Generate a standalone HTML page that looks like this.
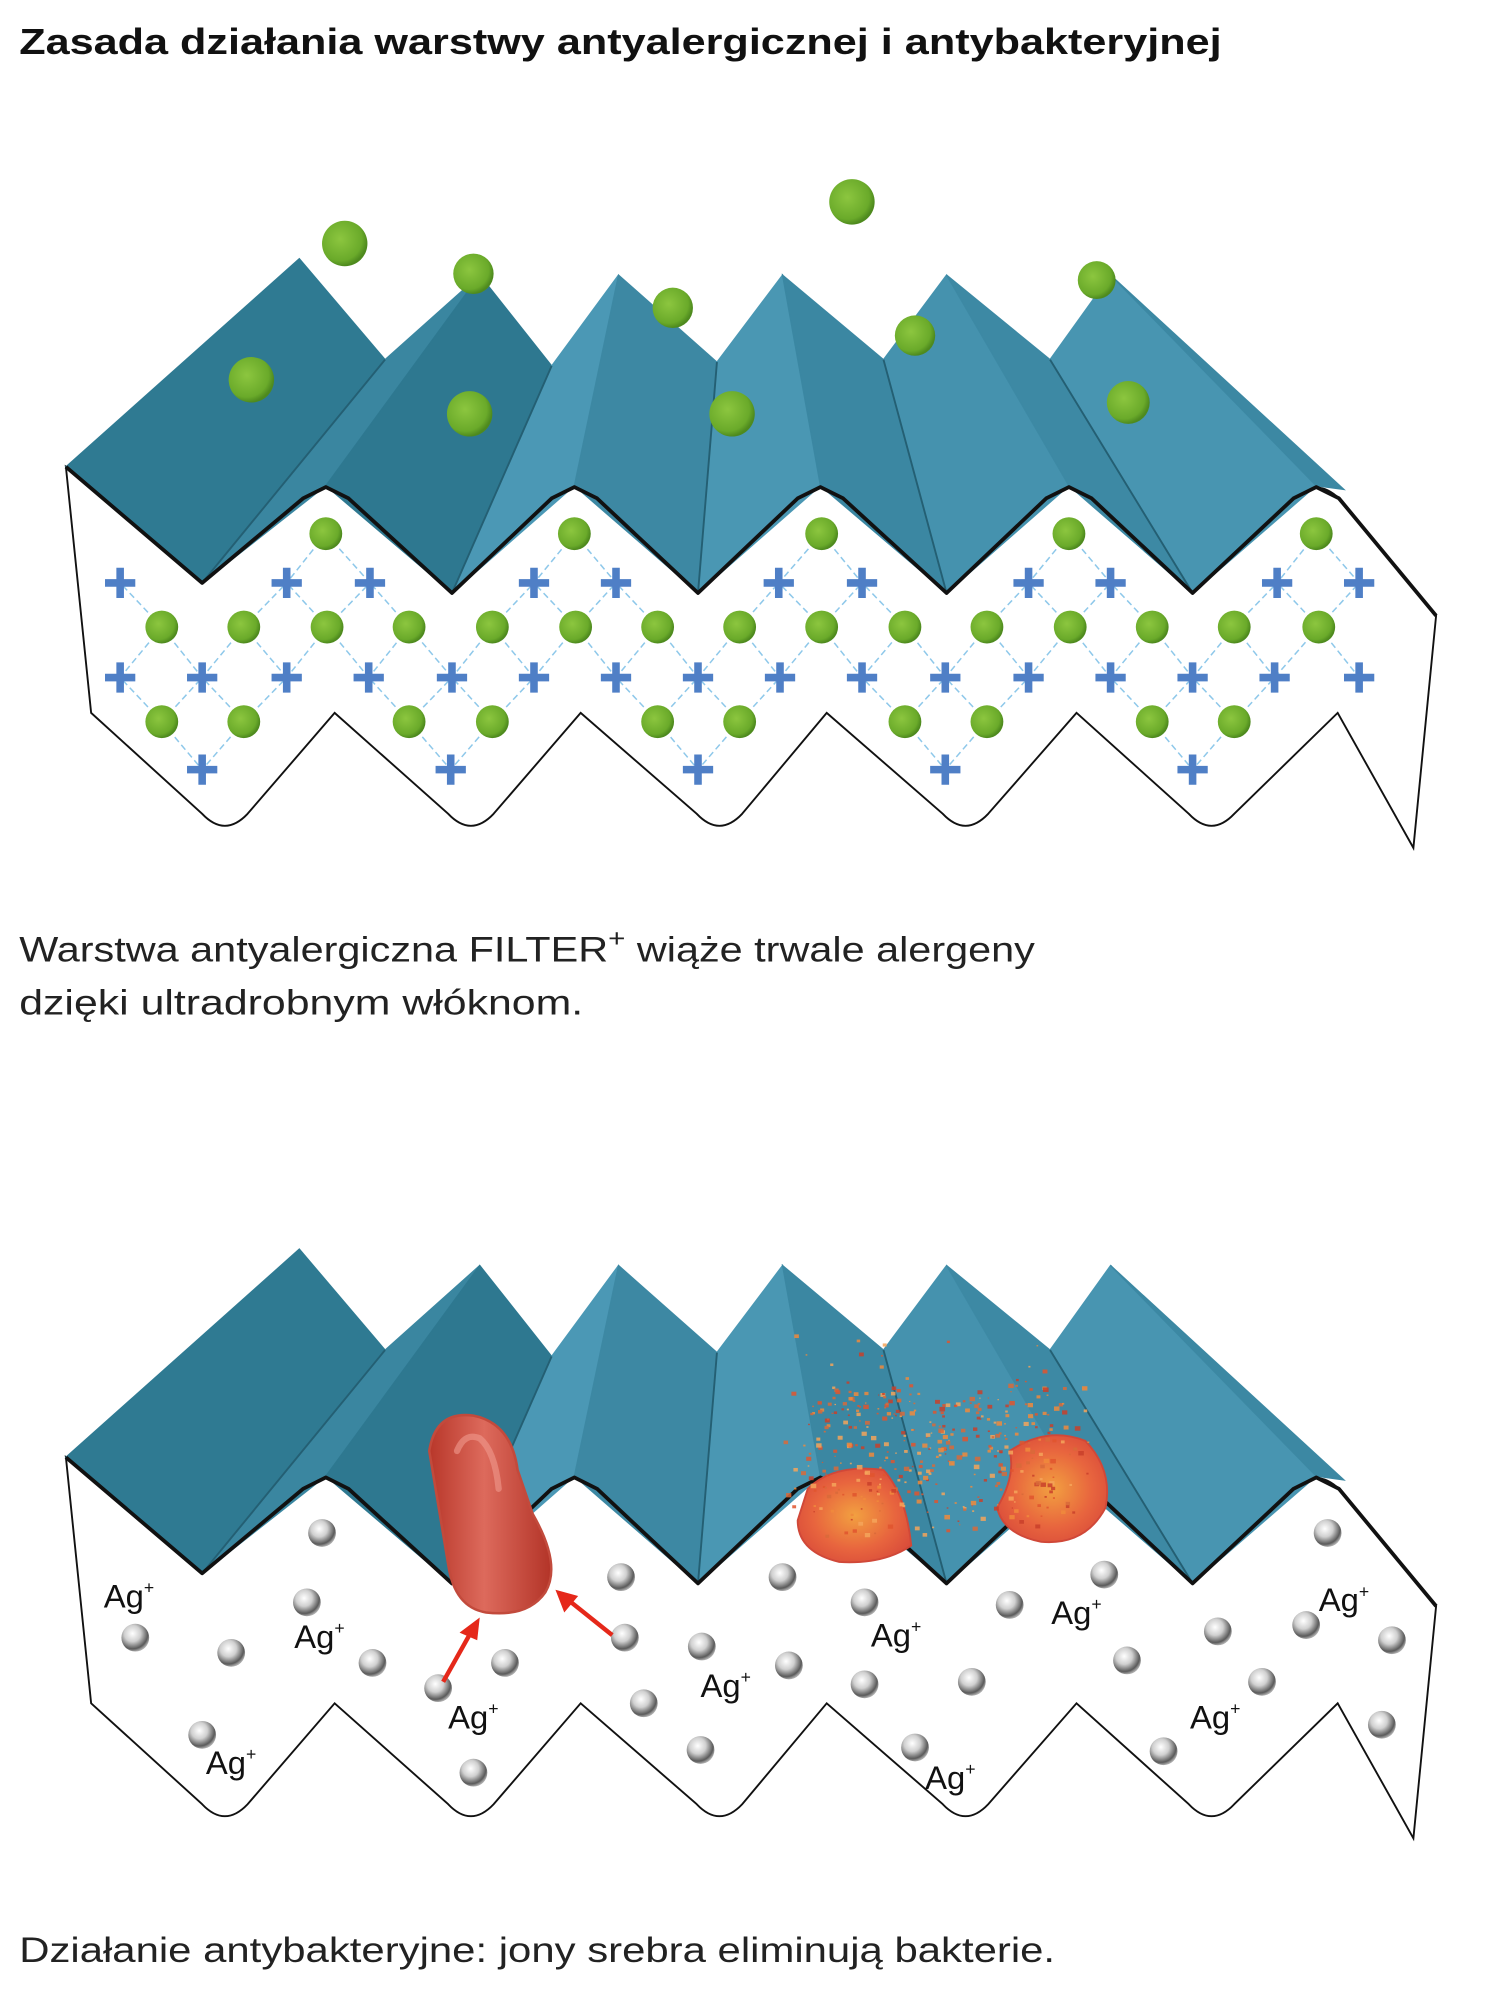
<!DOCTYPE html>
<html><head><meta charset="utf-8"><style>
html,body{margin:0;padding:0;background:#fff;}
svg{display:block}
</style></head><body>
<svg id="s" width="1502" height="1996" viewBox="0 0 1190 1582" xmlns="http://www.w3.org/2000/svg">
<defs>
<radialGradient id="gr" cx="0.4" cy="0.4" r="0.6"><stop offset="0" stop-color="#8cc63f"/><stop offset="0.8" stop-color="#6aaa2a"/><stop offset="1" stop-color="#4e8a1e"/></radialGradient>
<radialGradient id="ag" cx="0.4" cy="0.35" r="0.65"><stop offset="0" stop-color="#ffffff"/><stop offset="0.45" stop-color="#d0d0d0"/><stop offset="0.85" stop-color="#5a5a5a"/><stop offset="1" stop-color="#aaa"/></radialGradient>
<linearGradient id="bac" x1="0" y1="0" x2="1" y2="0"><stop offset="0" stop-color="#b8372a"/><stop offset="0.45" stop-color="#dd6a5c"/><stop offset="1" stop-color="#b33428"/></linearGradient>
<radialGradient id="dead" cx="0.5" cy="0.5" r="0.6"><stop offset="0" stop-color="#f2a040"/><stop offset="0.6" stop-color="#e8653e"/><stop offset="1" stop-color="#d84a3a"/></radialGradient>
</defs>
<text x="15" y="43" font-family="Liberation Sans, sans-serif" font-weight="bold" font-size="29" fill="#111" textLength="953" lengthAdjust="spacingAndGlyphs">Zasada działania warstwy antyalergicznej i antybakteryjnej</text>
<g id="gtop"></g>
<g id="gbot"></g>
<text x="15" y="762" font-family="Liberation Sans, sans-serif" font-size="28" fill="#222" textLength="805" lengthAdjust="spacingAndGlyphs">Warstwa antyalergiczna FILTER<tspan dy="-12" font-size="20">+</tspan><tspan dy="12"> wiąże trwale alergeny</tspan></text>
<text x="15" y="804" font-family="Liberation Sans, sans-serif" font-size="28" fill="#222" textLength="447" lengthAdjust="spacingAndGlyphs">dzięki ultradrobnym włóknom.</text>
<text x="15" y="1555" font-family="Liberation Sans, sans-serif" font-size="28" fill="#222" textLength="821" lengthAdjust="spacingAndGlyphs">Działanie antybakteryjne: jony srebra eliminują bakterie.</text>
</svg>
<script>
(function(){
var NS="http://www.w3.org/2000/svg";
function el(p,t,a){var e=document.createElementNS(NS,t);for(var k in a)e.setAttribute(k,a[k]);p.appendChild(e);return e;}
function pts(a,dy){return a.map(function(p){return p[0]+","+(p[1]+dy)}).join(" ");}
function filter(g,dy){
 var panel="M52,"+(370+dy)+" L160,"+(462+dy)+" L240,"+(395+dy)+" Q258,"+(378+dy)+" 276,"+(395+dy)+" L358,"+(470+dy)+" L437,"+(395+dy)+" Q455,"+(378+dy)+" 473,"+(395+dy)+" L553,"+(470+dy)+" L632,"+(395+dy)+" Q650,"+(378+dy)+" 668,"+(395+dy)+" L750,"+(470+dy)+" L829,"+(395+dy)+" Q847,"+(378+dy)+" 865,"+(395+dy)+" L945,"+(470+dy)+" L1025,"+(395+dy)+" Q1043,"+(378+dy)+" 1061,"+(395+dy)+" L1138,"+(488+dy)+" L1120,"+(672+dy)+" L1060,"+(565+dy)+" L978,"+(645+dy)+" Q960,"+(664+dy)+" 942,"+(645+dy)+" L853,"+(565+dy)+" L783,"+(645+dy)+" Q765,"+(664+dy)+" 747,"+(645+dy)+" L655,"+(565+dy)+" L588,"+(645+dy)+" Q570,"+(664+dy)+" 552,"+(645+dy)+" L460,"+(565+dy)+" L391,"+(645+dy)+" Q373,"+(664+dy)+" 355,"+(645+dy)+" L265,"+(565+dy)+" L196,"+(645+dy)+" Q178,"+(664+dy)+" 160,"+(645+dy)+" L72,"+(565+dy)+" Z";
 el(g,"path",{d:panel,fill:"#fff",stroke:"#111","stroke-width":"1.5"});
 var F=[
 [[[52,370],[237,205],[305,285],[160,462]],"#2f7a92"],
 [[[160,462],[305,285],[380,218],[258,385]],"#3a86a0"],
 [[[258,385],[380,218],[437,290],[358,470]],"#2e7890"],
 [[[358,470],[437,290],[490,218],[455,385]],"#4b98b5"],
 [[[455,385],[490,218],[568,287],[553,470]],"#3d88a3"],
 [[[553,470],[568,287],[620,218],[650,385]],"#4a97b3"],
 [[[650,385],[620,218],[700,285],[750,470]],"#3b87a2"],
 [[[750,470],[700,285],[750,218],[847,385]],"#4592ae"],
 [[[847,385],[750,218],[832,285],[945,470]],"#3d89a4"],
 [[[945,470],[832,285],[880,218],[1043,385]],"#4895b1"],
 [[[1043,385],[880,218],[1065,388]],"#3c88a3"]];
 F.forEach(function(f){el(g,"polygon",{points:pts(f[0],dy),fill:f[1],stroke:f[1],"stroke-width":"1"});});
 [[[305,285],[160,462]],[[437,290],[358,470]],[[568,287],[553,470]],[[700,285],[750,470]],[[832,285],[945,470]]].forEach(function(l){
  el(g,"line",{x1:l[0][0],y1:l[0][1]+dy,x2:l[1][0],y2:l[1][1]+dy,stroke:"#245f73","stroke-width":"1.5"});});
 el(g,"polyline",{points:pts([[52,370],[160,462],[240,395],[258,386],[276,395],[358,470],[437,395],[455,386],[473,395],[553,470],[632,395],[650,386],[668,395],[750,470],[829,395],[847,386],[865,395],[945,470],[1025,395],[1043,386],[1061,395],[1138,488]],dy),fill:"none",stroke:"#111","stroke-width":"3","stroke-linejoin":"round"});
}
var gT=document.getElementById("gtop"),gB=document.getElementById("gbot");
filter(gT,0);
var G=[],P=[];
[258,455,651,847,1043].forEach(function(x){G.push([x,423]);});
[128,193,259,324,390,456,521,586,651,717,782,848,913,978,1045].forEach(function(x){G.push([x,497]);});
[128,193,324,390,521,586,717,782,913,978].forEach(function(x){G.push([x,572]);});
[95,227,293,423,488,617,683,815,880,1012,1077].forEach(function(x){P.push([x,462]);});
[95,160,227,292,358,423,488,553,618,683,749,815,880,945,1010,1077].forEach(function(x){P.push([x,537]);});
[160,357,553,749,945].forEach(function(x){P.push([x,610]);});
G.forEach(function(g){P.forEach(function(p){var dx=Math.abs(g[0]-p[0]),ddy=Math.abs(g[1]-p[1]);if(dx<45&&ddy<45&&dx>20&&ddy>20)el(gT,"line",{x1:g[0],y1:g[1],x2:p[0],y2:p[1],stroke:"#8ec8ea","stroke-width":"1.2","stroke-dasharray":"5,3"});});});
G.forEach(function(g){el(gT,"circle",{cx:g[0],cy:g[1],r:13,fill:"url(#gr)"});});
P.forEach(function(p){el(gT,"path",{d:"M"+(p[0]-12)+","+p[1]+"h24M"+p[0]+","+(p[1]-12)+"v24",stroke:"#4f7fc6","stroke-width":"6"});});
[[273,193,18],[199,301,18],[375,217,16],[372,328,18],[533,244,16],[580,328,18],[675,160,18],[725,266,16],[869,222,15],[894,319,17]].forEach(function(c){el(gT,"circle",{cx:c[0],cy:c[1],r:c[2],fill:"url(#gr)"});});
filter(gB,785);
[[255,1215],[107,1298],[183,1310],[243,1270],[295,1318],[160,1375],[347,1338],[400,1318],[375,1405],[492,1250],[495,1298],[510,1350],[556,1305],[625,1320],[620,1250],[555,1387],[685,1270],[685,1335],[770,1333],[800,1272],[875,1248],[893,1316],[725,1385],[922,1388],[965,1293],[1000,1333],[1035,1288],[1052,1215],[1103,1300],[1095,1367]].forEach(function(c){el(gB,"circle",{cx:c[0],cy:c[1],r:11,fill:"url(#ag)"});});
[[82,1274],[233,1306],[355,1370],[163,1406],[555,1345],[690,1305],[833,1287],[943,1370],[1045,1277],[733,1418]].forEach(function(a){var t=el(gB,"text",{x:a[0],y:a[1],"font-family":"Liberation Sans, sans-serif","font-size":"26",fill:"#111"});t.appendChild(document.createTextNode("Ag"));var s=el(t,"tspan",{dy:"-11","font-size":"14"});s.appendChild(document.createTextNode("+"));});
el(gB,"path",{d:"M340,1150 Q345,1118 375,1122 Q405,1128 410,1165 L422,1200 Q445,1240 432,1262 Q418,1282 385,1278 Q360,1274 355,1240 Z",fill:"url(#bac)",stroke:"#c24a3c","stroke-width":"2"});
el(gB,"path",{d:"M362,1150 Q368,1135 380,1140 Q392,1150 395,1180",fill:"none",stroke:"#f09a8e","stroke-width":"5","stroke-linecap":"round",opacity:"0.6"});
el(gB,"line",{x1:351,y1:1333,x2:374,y2:1292,stroke:"#e5281a","stroke-width":"3.5"});
el(gB,"polygon",{points:"380,1282 364,1294 378,1300",fill:"#e5281a"});
el(gB,"line",{x1:485,y1:1296,x2:450,y2:1268,stroke:"#e5281a","stroke-width":"3.5"});
el(gB,"polygon",{points:"440,1260 447,1278 458,1265",fill:"#e5281a"});
el(gB,"path",{d:"M640,1180 Q660,1160 700,1165 Q718,1185 722,1225 Q700,1240 665,1238 Q632,1230 632,1205 Z",fill:"url(#dead)",stroke:"#d04838","stroke-width":"1.5"});
el(gB,"path",{d:"M800,1150 Q830,1130 860,1142 Q882,1165 876,1195 Q860,1225 825,1222 Q795,1216 790,1195 Q805,1170 800,1150 Z",fill:"url(#dead)",stroke:"#d04838","stroke-width":"1.5"});
var seed=7;function rnd(){seed=(seed*9301+49297)%233280;return seed/233280;}
var cols=["#e0552e","#f08a3c","#c9402a","#f4a55a","#d86a3a"];
for(var i=0;i<420;i++){var cx=(rnd()<0.5)?690:800;var x=cx+(rnd()-0.5)*100+(rnd()-0.5)*40;var y=1100+rnd()*110+(rnd()-0.5)*20;if(rnd()<0.15)y-=40;var w=1+rnd()*3.5;el(gB,"rect",{x:x,y:y,width:w,height:w*0.8,fill:cols[Math.floor(rnd()*5)],opacity:0.85});}
})();
</script>
</body></html>
